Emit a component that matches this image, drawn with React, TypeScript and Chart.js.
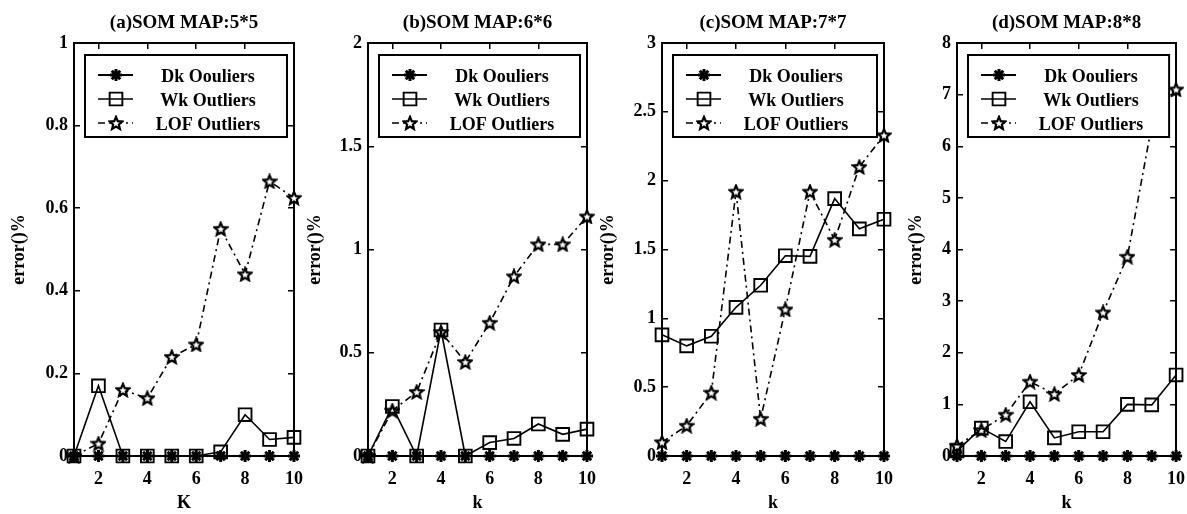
import React, { useEffect, useRef } from 'react';
import { Chart, registerables } from 'chart.js';

Chart.register(...registerables);

// ---------- data ----------
const K_VALUES = [1, 2, 3, 4, 5, 6, 7, 8, 9, 10];
const X_TICKS = [2, 4, 6, 8, 10];
const SERIES_NAMES = ['Dk Oouliers', 'Wk Outliers', 'LOF Outliers'];
const Y_LABEL = 'error()%';

const TITLE_A = '(a)SOM MAP:5*5';
const TITLE_B = '(b)SOM MAP:6*6';
const TITLE_C = '(c)SOM MAP:7*7';
const TITLE_D = '(d)SOM MAP:8*8';
const X_LABELS = ['K', 'k', 'k', 'k'];

const DK_A = [0, 0, 0, 0, 0, 0, 0, 0, 0, 0];
const WK_A = [0, 0.17, 0, 0, 0, 0, 0.01, 0.1, 0.04, 0.045];
const LOF_A = [0, 0.03, 0.16, 0.14, 0.24, 0.27, 0.55, 0.44, 0.665, 0.625];
const Y_TICKS_A = [0, 0.2, 0.4, 0.6, 0.8, 1];

const DK_B = [0, 0, 0, 0, 0, 0, 0, 0, 0, 0];
const WK_B = [0, 0.24, 0, 0.61, 0, 0.065, 0.085, 0.155, 0.105, 0.13];
const LOF_B = [0, 0.22, 0.31, 0.6, 0.455, 0.645, 0.87, 1.025, 1.025, 1.16];
const Y_TICKS_B = [0, 0.5, 1, 1.5, 2];

const DK_C = [0, 0, 0, 0, 0, 0, 0, 0, 0, 0];
const WK_C = [0.88, 0.8, 0.87, 1.08, 1.24, 1.455, 1.45, 1.87, 1.65, 1.72];
const LOF_C = [0.1, 0.22, 0.46, 1.92, 0.27, 1.065, 1.92, 1.57, 2.1, 2.33];
const Y_TICKS_C = [0, 0.5, 1, 1.5, 2, 2.5, 3];

const DK_D = [0, 0, 0, 0, 0, 0, 0, 0, 0, 0];
const WK_D = [0.1, 0.54, 0.28, 1.05, 0.35, 0.47, 0.47, 1.0, 0.99, 1.57];
const LOF_D = [0.2, 0.5, 0.8, 1.44, 1.2, 1.57, 2.78, 3.86, 6.4, 7.1];
const Y_TICKS_D = [0, 1, 2, 3, 4, 5, 6, 7, 8];

// ---------- layout (not data) ----------
const PANELS = [
  { title: TITLE_A, xLabel: X_LABELS[0], yTicks: Y_TICKS_A, dk: DK_A, wk: WK_A, lof: LOF_A, canvasLeft: 0, canvasWidth: 320, plotLeft: 74, plotRight: 294, yTitlePad: 9 },
  { title: TITLE_B, xLabel: X_LABELS[1], yTicks: Y_TICKS_B, dk: DK_B, wk: WK_B, lof: LOF_B, canvasLeft: 297, canvasWidth: 320, plotLeft: 368, plotRight: 587, yTitlePad: 8 },
  { title: TITLE_C, xLabel: X_LABELS[2], yTicks: Y_TICKS_C, dk: DK_C, wk: WK_C, lof: LOF_C, canvasLeft: 592, canvasWidth: 320, plotLeft: 662, plotRight: 884, yTitlePad: 6 },
  { title: TITLE_D, xLabel: X_LABELS[3], yTicks: Y_TICKS_D, dk: DK_D, wk: WK_D, lof: LOF_D, canvasLeft: 888, canvasWidth: 299, plotLeft: 957, plotRight: 1180, yTitlePad: 18 },
];

const H = 514;
const PLOT_TOP = 43;
const PLOT_BOTTOM = 456;
const FAMILY = '"Liberation Serif", "Times New Roman", serif';

function makePentagram(size: number, lw: number): HTMLCanvasElement {
  const c = document.createElement('canvas');
  c.width = size;
  c.height = size;
  const ctx = c.getContext('2d')!;
  const cx = size / 2;
  const cy = size / 2 + 0.6;
  const R = size / 2 - lw * 0.6;
  const r = R * 0.45;
  ctx.beginPath();
  for (let i = 0; i < 10; i++) {
    const ang = -Math.PI / 2 + (i * Math.PI) / 5;
    const rad = i % 2 === 0 ? R : r;
    const px = cx + rad * Math.cos(ang);
    const py = cy + rad * Math.sin(ang);
    if (i === 0) ctx.moveTo(px, py);
    else ctx.lineTo(px, py);
  }
  ctx.closePath();
  ctx.fillStyle = '#fff';
  ctx.fill();
  ctx.lineJoin = 'miter';
  ctx.lineWidth = lw;
  ctx.strokeStyle = '#000';
  ctx.stroke();
  return c;
}

function drawMarker(ctx: CanvasRenderingContext2D, style: any, radius: number, lw: number, x: number, y: number) {
  ctx.save();
  ctx.setLineDash([]);
  if (style instanceof HTMLCanvasElement) {
    ctx.drawImage(style, x - style.width / 2, y - style.height / 2);
    ctx.restore();
    return;
  }
  ctx.strokeStyle = '#000';
  ctx.lineWidth = lw;
  ctx.beginPath();
  if (style === 'rect') {
    const s = Math.SQRT1_2 * radius;
    ctx.rect(x - s, y - s, 2 * s, 2 * s);
  } else if (style === 'star') {
    const d = radius * Math.SQRT1_2;
    ctx.moveTo(x - radius, y);
    ctx.lineTo(x + radius, y);
    ctx.moveTo(x, y - radius);
    ctx.lineTo(x, y + radius);
    ctx.moveTo(x - d, y - d);
    ctx.lineTo(x + d, y + d);
    ctx.moveTo(x - d, y + d);
    ctx.lineTo(x + d, y - d);
  }
  ctx.stroke();
  ctx.restore();
}

const decorPlugin = {
  id: 'panelDecor',
  afterDraw(chart: any, _args: any, opts: any) {
    const { ctx, chartArea } = chart;
    ctx.save();
    ctx.fillStyle = '#000';
    ctx.font = `bold 19px ${FAMILY}`;
    ctx.textAlign = 'center';
    ctx.textBaseline = 'alphabetic';
    ctx.fillText(opts.title, (chartArea.left + chartArea.right) / 2, 28);

    const bx = chartArea.left + 11;
    const by = 55;
    const bw = chartArea.right - 7 - bx;
    const bh = 82;
    ctx.fillStyle = '#fff';
    ctx.fillRect(bx, by, bw, bh);
    ctx.lineWidth = 2;
    ctx.strokeStyle = '#000';
    ctx.strokeRect(bx, by, bw, bh);

    chart.data.datasets.forEach((ds: any, i: number) => {
      const y = 75 + i * 24;
      ctx.save();
      ctx.beginPath();
      ctx.setLineDash(ds.borderDash || []);
      ctx.lineWidth = ds.borderWidth;
      ctx.strokeStyle = '#000';
      ctx.moveTo(bx + 13, y);
      ctx.lineTo(bx + 48, y);
      ctx.stroke();
      ctx.restore();
      drawMarker(ctx, ds.pointStyle, ds.pointRadius, ds.pointBorderWidth, bx + 31, y);
      ctx.fillStyle = '#000';
      ctx.font = `bold 18px ${FAMILY}`;
      ctx.textAlign = 'center';
      ctx.textBaseline = 'alphabetic';
      ctx.fillText(ds.label, bx + 123, y + 7);
    });
    ctx.restore();
  },
};

function Panel({ panel }: { panel: (typeof PANELS)[number] }) {
  const ref = useRef<HTMLCanvasElement | null>(null);

  useEffect(() => {
    if (!ref.current) return;
    const star = makePentagram(16, 2.2);
    const yMin = panel.yTicks[0];
    const yMax = panel.yTicks[panel.yTicks.length - 1];
    const tickFont = { family: FAMILY, size: 18, weight: 'bold' as const };
    const labelFont = { family: FAMILY, size: 18, weight: 'bold' as const };
    const gridOpts = { drawOnChartArea: false, drawTicks: true, tickLength: -6, color: '#000', lineWidth: 1.5 };
    const borderOpts = { display: true, color: '#000', width: 2 };
    const toPts = (arr: number[]) => K_VALUES.map((k, i) => ({ x: k, y: arr[i] }));
    const setX = (s: any) => { s.ticks = X_TICKS.map((v) => ({ value: v })); };
    const setY = (s: any) => { s.ticks = panel.yTicks.map((v) => ({ value: v })); };

    const chart = new Chart(ref.current, {
      type: 'line',
      data: {
        datasets: [
          {
            label: SERIES_NAMES[0],
            data: toPts(panel.dk),
            borderColor: '#000',
            borderWidth: 2.2,
            pointStyle: 'star',
            pointRadius: 6,
            pointBorderWidth: 3,
            pointBorderColor: '#000',
            pointBackgroundColor: '#000',
            tension: 0,
            clip: false as any,
          },
          {
            label: SERIES_NAMES[1],
            data: toPts(panel.wk),
            borderColor: '#000',
            borderWidth: 1.6,
            pointStyle: 'rect',
            pointRadius: 9,
            pointBorderWidth: 1.9,
            pointBorderColor: '#000',
            pointBackgroundColor: 'rgba(0,0,0,0)',
            tension: 0,
            clip: false as any,
          },
          {
            label: SERIES_NAMES[2],
            data: toPts(panel.lof),
            borderColor: '#000',
            borderWidth: 1.6,
            borderDash: [7, 4, 2, 4],
            pointStyle: star as any,
            pointRadius: 7,
            pointBorderWidth: 2,
            pointBorderColor: '#000',
            pointBackgroundColor: '#fff',
            tension: 0,
            clip: false as any,
          },
        ],
      },
      options: {
        responsive: false,
        animation: false,
        devicePixelRatio: 1,
        events: [],
        layout: {
          padding: { left: 0, top: PLOT_TOP, bottom: 0, right: panel.canvasLeft + panel.canvasWidth - panel.plotRight },
        },
        scales: {
          x: {
            type: 'linear',
            position: 'bottom',
            min: 1,
            max: 10,
            afterBuildTicks: setX,
            afterFit: (s: any) => { s.height = H - PLOT_BOTTOM; s.paddingLeft = 0; s.paddingRight = 0; },
            ticks: { font: tickFont, color: '#000', padding: 19, maxRotation: 0, autoSkip: false, callback: (v: any) => String(v) },
            grid: gridOpts,
            border: borderOpts,
            title: { display: true, text: panel.xLabel, font: labelFont, color: '#000', padding: { top: 0, bottom: 0 } },
          },
          x2: {
            type: 'linear',
            axis: 'x',
            position: 'top',
            min: 1,
            max: 10,
            afterBuildTicks: setX,
            afterFit: (s: any) => { s.height = 0; s.paddingLeft = 0; s.paddingRight = 0; },
            ticks: { display: false },
            grid: gridOpts,
            border: borderOpts,
          },
          y: {
            type: 'linear',
            position: 'left',
            min: yMin,
            max: yMax,
            afterBuildTicks: setY,
            afterFit: (s: any) => { s.width = panel.plotLeft - panel.canvasLeft; s.paddingTop = 0; s.paddingBottom = 0; },
            ticks: { font: tickFont, color: '#000', padding: 12, autoSkip: false, callback: (v: any) => String(v) },
            grid: gridOpts,
            border: borderOpts,
            title: { display: true, text: Y_LABEL, font: labelFont, color: '#000', padding: { top: panel.yTitlePad, bottom: 0 } },
          },
          y2: {
            type: 'linear',
            axis: 'y',
            position: 'right',
            min: yMin,
            max: yMax,
            afterBuildTicks: setY,
            afterFit: (s: any) => { s.width = 0; s.paddingTop = 0; s.paddingBottom = 0; },
            ticks: { display: false },
            grid: gridOpts,
            border: borderOpts,
          },
        } as any,
        plugins: {
          legend: { display: false },
          tooltip: { enabled: false },
          title: { display: false },
          panelDecor: { title: panel.title },
        } as any,
      },
      plugins: [decorPlugin as any],
    });
    return () => chart.destroy();
  }, [panel]);

  return (
    <canvas
      ref={ref}
      width={panel.canvasWidth}
      height={H}
      style={{ position: 'absolute', left: panel.canvasLeft, top: 0, width: panel.canvasWidth, height: H }}
    />
  );
}

export default function App() {
  return (
    <div style={{ position: 'absolute', left: 0, top: 0, width: 1187, height: H, background: '#fff', overflow: 'hidden' }}>
      {PANELS.map((p, i) => (
        <Panel key={i} panel={p} />
      ))}
    </div>
  );
}
